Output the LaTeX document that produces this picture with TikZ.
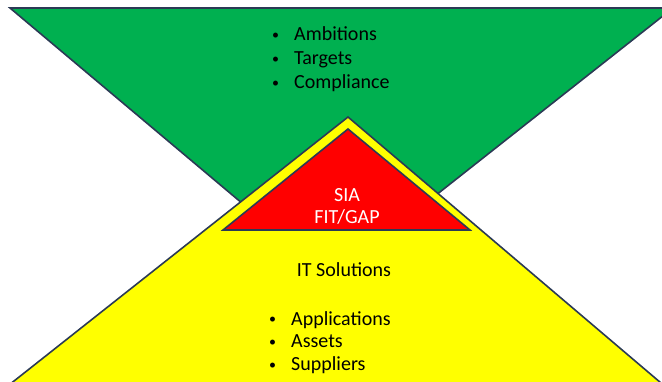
\documentclass[tikz,border=0pt]{standalone}
\usepackage{fontspec}
\setmainfont{Carlito}
\definecolor{slidegreen}{HTML}{00B050}
\definecolor{slideyellow}{HTML}{FFFF00}
\definecolor{slidered}{HTML}{FF0000}
\definecolor{edgeblue}{HTML}{2B3A55}
\tikzset{
  tri/.style={draw=edgeblue, line width=1.6pt, line join=miter},
  item/.style={anchor=base west, inner sep=0pt, font=\fontsize{20}{24}\selectfont},
  label/.style={anchor=base, inner sep=0pt, font=\fontsize{20}{24}\selectfont}
}
\newcommand{\bul}[1]{\makebox[23pt][l]{\hspace{1pt}\raisebox{1.5pt}{\fontsize{14}{14}\selectfont\textbullet}}#1}
\begin{document}
\begin{tikzpicture}[x=1pt, y=-1pt]
  \clip (0,0) rectangle (662,382);
  \useasboundingbox (0,0) rectangle (662,382);
  % the three triangles, back to front
  \draw[tri, fill=slidegreen] (10,8) -- (673,8) -- (331,278) -- cycle;
  \draw[tri, fill=slideyellow] (348,117) -- (681,400) -- (-10,400) -- cycle;
  \draw[tri, fill=slidered] (348,129) -- (470,230) -- (223,230) -- cycle;
  % top list
  \foreach \txt [count=\i] in {Ambitions, Targets, Compliance}
    \node[item] (goal\i) at (271, 17+24*\i) {\bul{\txt}};
  % middle
  \node[label, text=white] (sia) at (347,202) {SIA};
  \node[label, text=white] (fitgap) at (347,224) {FIT/GAP};
  % bottom list
  \node[label] (itsol) at (344,277) {IT Solutions};
  \foreach \txt [count=\i] in {Applications, Assets, Suppliers}
    \node[item] (it\i) at (268, 303+22.5*\i) {\bul{\txt}};
\end{tikzpicture}
\end{document}
